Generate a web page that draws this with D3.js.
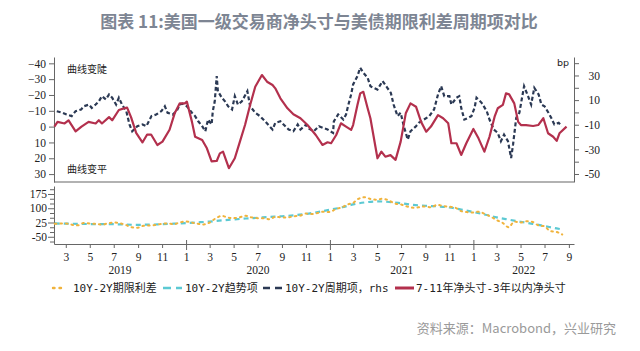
<!DOCTYPE html>
<html>
<head>
<meta charset="utf-8">
<script src="https://cdn.jsdelivr.net/npm/d3@7"></script>
<style>
  html, body { margin: 0; padding: 0; background: #fff; }
  svg { display: block; }
</style>
</head>
<body>
<svg id="chart" width="640" height="351"></svg>
<script>
// ---- data ----
// 7-11年净头寸-3年以内净头寸, left axis (reversed)
const netPosition = [
  ["2019-01-31",0],["2019-02-08",-3],["2019-02-26",-2],["2019-03-08",-4],["2019-03-26",3],["2019-04-10",0],
  ["2019-04-28",-3],["2019-05-16",-2],["2019-05-24",-4],["2019-06-01",-2],["2019-06-19",-6],["2019-06-27",-4],
  ["2019-07-14",-10.5],["2019-07-27",-11.5],["2019-08-04",-12],["2019-08-14",-6],["2019-08-27",4],["2019-09-12",10],
  ["2019-09-24",5],["2019-10-04",5],["2019-10-20",11.6],["2019-11-02",9.5],["2019-11-20",2],["2019-12-03",-8.4],
  ["2019-12-16",-14.7],["2019-12-29",-14.7],["2020-01-03",-15.8],["2020-01-16",-3],["2020-01-24",6.4],["2020-02-11",8.5],
  ["2020-02-23",13.7],["2020-03-06",22],["2020-03-19",21.7],["2020-03-27",16.9],["2020-04-04",15.8],["2020-04-19",26.3],
  ["2020-05-04",20],["2020-05-17",9.5],["2020-05-30",-1],["2020-06-12",-13.7],["2020-06-25",-25.2],["2020-07-12",-32.6],
  ["2020-07-25",-28.4],["2020-08-08",-26.3],["2020-08-15",-24.2],["2020-08-28",-17.9],["2020-09-15",-11.6],["2020-09-30",-7.8],
  ["2020-10-18",-5.3],["2020-11-05",-1],["2020-11-26",5.3],["2020-12-13",11.6],["2020-12-26",9.9],["2021-01-04",10.5],
  ["2021-01-17",5.3],["2021-01-29",-2.1],["2021-02-11",0],["2021-02-24",2.1],["2021-03-01",-1],["2021-03-12",-13.7],
  ["2021-03-19",-21],["2021-03-27",-22],["2021-04-07",-11.6],["2021-04-14",-5.3],["2021-05-02",20],["2021-05-12",15.8],
  ["2021-05-22",19],["2021-06-04",18],["2021-06-17",21],["2021-06-30",9.5],["2021-07-13",-8.4],["2021-07-25",-14.7],
  ["2021-08-08",-12.6],["2021-08-21",-3],["2021-09-03",3.2],["2021-09-15",0],["2021-10-03",-7.3],["2021-10-16",-5.3],
  ["2021-10-29",-2.1],["2021-11-06",10.5],["2021-11-19",10.5],["2021-12-01",17.9],["2021-12-14",10.5],["2022-01-01",1.5],
  ["2022-01-14",7.4],["2022-01-29",15.8],["2022-02-11",6.4],["2022-02-24",-6.3],["2022-03-04",-11.6],["2022-03-17",-13.7],
  ["2022-03-25",-21],["2022-04-02",-20.4],["2022-04-15",-14.7],["2022-04-25",-3],["2022-05-02",-1],["2022-05-15",-1],
  ["2022-06-02",-0.4],["2022-06-15",-1],["2022-06-28",-5.3],["2022-07-10",4.2],["2022-07-23",6.4],["2022-08-01",9],
  ["2022-08-08",4.2],["2022-08-26",0]
];

// 10Y-2Y周期项, right axis (bp)
const cycleTerm = [
  ["2019-02-06",1],["2019-02-21",-0.3],["2019-03-03",-1.7],["2019-03-16",-3],["2019-03-26",1],["2019-04-09",2.4],
  ["2019-04-16",5],["2019-04-29",6.4],["2019-05-06",3.7],["2019-05-16",6.4],["2019-05-24",9],["2019-06-01",13.2],
  ["2019-06-11",10.5],["2019-06-19",14.6],["2019-06-27",11.9],["2019-07-07",6.4],["2019-07-14",11.9],["2019-07-22",6.4],
  ["2019-08-02",1],["2019-08-10",-9.8],["2019-08-17",-15.3],["2019-08-30",-11.2],["2019-09-12",-9.8],["2019-09-22",-11.2],
  ["2019-10-05",-3],["2019-10-17",-1.7],["2019-10-30",1],["2019-11-08",5],["2019-11-15",-0.3],["2019-11-28",-1.7],
  ["2019-12-08",1],["2019-12-16",6.4],["2019-12-23",7],["2020-01-03",5],["2020-01-16",-0.3],["2020-01-24",-3],
  ["2020-02-01",-7.2],["2020-02-11",-11.2],["2020-02-19",-15.3],["2020-02-26",-5.8],["2020-03-06",-9.8],["2020-03-09",1],
  ["2020-03-14",9],["2020-03-19",29.5],["2020-03-22",17.2],["2020-04-01",11.9],["2020-04-09",9],["2020-04-17",5],
  ["2020-04-27",2.4],["2020-05-04",13.2],["2020-05-12",6.4],["2020-05-22",9],["2020-06-05",17.2],["2020-06-12",5],
  ["2020-06-25",-0.3],["2020-07-07",-3],["2020-07-20",-7.2],["2020-08-08",-13.9],["2020-08-15",-8.5],["2020-08-28",-7.2],
  ["2020-09-05",-9.8],["2020-09-18",-13.9],["2020-09-30",-15.3],["2020-10-11",-9.8],["2020-10-18",-13.9],["2020-11-01",-10],
  ["2020-11-08",-13],["2020-11-21",-15.3],["2020-12-04",-11.2],["2020-12-14",-12.5],["2020-12-26",-13.9],["2021-01-09",-16.6],
  ["2021-01-11",-7.2],["2021-01-22",-1.7],["2021-02-04",-5.8],["2021-02-11",-1.7],["2021-02-16",5],["2021-02-24",14.6],
  ["2021-03-01",22.7],["2021-03-12",29.5],["2021-03-19",36.3],["2021-03-27",32.2],["2021-04-07",28.1],["2021-04-14",21.3],
  ["2021-04-22",20],["2021-05-02",18.6],["2021-05-15",25.4],["2021-05-27",20],["2021-06-05",15.9],["2021-06-12",6.4],
  ["2021-06-22",-3],["2021-06-30",-0.3],["2021-07-08",-11.2],["2021-07-18",-22],["2021-07-25",-15.3],["2021-08-08",-11.2],
  ["2021-08-15",-8.5],["2021-08-28",-5.8],["2021-09-11",-3],["2021-09-23",2.4],["2021-10-03",14.6],["2021-10-11",21.3],
  ["2021-10-19",13.2],["2021-11-01",13.2],["2021-11-06",6.4],["2021-11-19",11.9],["2021-11-26",13.2],["2021-12-01",3.7],
  ["2021-12-09",-5.8],["2021-12-19",-4.4],["2021-12-27",-3],["2022-01-04",3.7],["2022-01-09",11.9],["2022-01-22",7.8],
  ["2022-02-04",1],["2022-02-11",-5.8],["2022-02-22",-13.9],["2022-03-04",-16.6],["2022-03-12",-23.4],["2022-03-20",-18],
  ["2022-03-30",-23.4],["2022-04-07",-37],["2022-04-12",-26],["2022-04-20",-4.4],["2022-04-28",-0.3],["2022-05-10",21.3],
  ["2022-05-20",13.2],["2022-05-28",6.4],["2022-06-05",20],["2022-06-16",14.6],["2022-06-23",6.4],["2022-07-01",5],
  ["2022-07-11",-0.3],["2022-07-18",-4.4],["2022-07-26",-9.8],["2022-08-06",-8.5],["2022-08-14",-11.2]
];

// 10Y-2Y期限利差 (bp)
const termSpread = [
  ["2019-02-01",18],["2019-02-15",20],["2019-03-01",20],["2019-03-15",14],["2019-04-01",10],["2019-04-15",22],
  ["2019-05-01",20],["2019-05-15",18],["2019-06-01",14],["2019-06-15",20],["2019-07-01",25],["2019-07-15",22],
  ["2019-08-01",12],["2019-08-15",0],["2019-09-01",-2],["2019-09-15",8],["2019-10-01",10],["2019-10-15",12],
  ["2019-11-01",18],["2019-11-15",20],["2019-12-01",16],["2019-12-15",25],["2020-01-01",30],["2020-01-15",25],
  ["2020-02-01",18],["2020-02-15",15],["2020-03-01",25],["2020-03-15",45],["2020-04-01",60],["2020-04-15",52],
  ["2020-05-01",48],["2020-05-15",52],["2020-06-01",60],["2020-06-15",52],["2020-07-01",48],["2020-07-15",48],
  ["2020-08-01",42],["2020-08-15",55],["2020-09-01",52],["2020-09-15",52],["2020-10-01",58],["2020-10-15",60],
  ["2020-11-01",72],["2020-11-15",70],["2020-12-01",75],["2020-12-15",82],["2021-01-01",80],["2021-01-15",95],
  ["2021-02-01",105],["2021-02-15",120],["2021-03-01",128],["2021-03-15",150],["2021-04-01",158],["2021-04-15",148],
  ["2021-05-01",145],["2021-05-15",150],["2021-06-01",140],["2021-06-15",125],["2021-07-01",120],["2021-07-15",110],
  ["2021-08-01",103],["2021-08-15",105],["2021-09-01",110],["2021-09-15",105],["2021-10-01",118],["2021-10-15",112],
  ["2021-11-01",108],["2021-11-15",104],["2021-12-01",85],["2021-12-15",80],["2022-01-01",78],["2022-01-15",82],
  ["2022-02-01",68],["2022-02-15",55],["2022-03-01",38],["2022-03-15",25],["2022-04-01",0],["2022-04-15",30],
  ["2022-05-01",25],["2022-05-15",32],["2022-06-01",28],["2022-06-15",10],["2022-07-01",5],["2022-07-15",-20],
  ["2022-08-01",-25],["2022-08-15",-38]
];

// 10Y-2Y趋势项 (bp)
const trendTerm = [
  ["2019-02-01",20],["2019-03-01",19],["2019-04-01",18],["2019-05-01",17],["2019-06-01",17],["2019-07-01",16],
  ["2019-08-01",14],["2019-09-01",13],["2019-10-01",14],["2019-11-01",16],["2019-12-01",19],["2020-01-01",22],
  ["2020-02-01",26],["2020-03-01",30],["2020-04-01",36],["2020-05-01",41],["2020-06-01",46],["2020-07-01",50],
  ["2020-08-01",54],["2020-09-01",58],["2020-10-01",63],["2020-11-01",70],["2020-12-01",80],["2021-01-01",92],
  ["2021-02-01",105],["2021-03-01",120],["2021-04-01",131],["2021-05-01",136],["2021-06-01",133],["2021-07-01",126],
  ["2021-08-01",118],["2021-09-01",113],["2021-10-01",110],["2021-11-01",104],["2021-12-01",93],["2022-01-01",80],
  ["2022-02-01",66],["2022-03-01",52],["2022-04-01",40],["2022-05-01",29],["2022-06-01",18],["2022-07-01",6],
  ["2022-08-01",-6],["2022-08-15",-12]
];

const leftTicks = [-40, -30, -20, -10, 0, 10, 20, 30];
const rightTicks = [40, 30, 20, 10, 0, -10, -20, -30, -40, -50];
const rightLabels = [30, 10, -10, -30, -50];
const lowerTicks = [200, 175, 150, 125, 100, 75, 50, 25, 0, -25, -50, -75];
const lowerLabels = [175, 100, 25, -50];
const years = [2019, 2020, 2021, 2022];

const legendItems = [
  { key: "spread", label: "10Y-2Y期限利差" },
  { key: "trend", label: "10Y-2Y趋势项" },
  { key: "cycle", label: "10Y-2Y周期项，rhs" },
  { key: "net", label: "7-11年净头寸-3年以内净头寸" }
];

// ---- layout ----
const COLORS = {
  net: "#b3304d", cycle: "#2b3954", spread: "#f0b33c", trend: "#5cc9d3",
  axis: "#666", text: "#222", title: "#7d8593", source: "#9a9a9a"
};
const X0 = 54, X1 = 574;
const TOP_Y0 = 57, TOP_Y1 = 182;
const LOW_Y0 = 186, LOW_Y1 = 244;
const serif = "'Liberation Serif', 'DejaVu Serif', serif";
const cjk = "'Noto Sans CJK SC', 'Noto Sans', sans-serif";
const mono = "'DejaVu Sans Mono', 'Noto Sans CJK SC', monospace";

const parse = d3.timeParse("%Y-%m-%d");
const svg = d3.select("#chart");

svg.append("text")
  .attr("x", 319).attr("y", 28)
  .attr("text-anchor", "middle")
  .attr("font-family", cjk).attr("font-size", 17).attr("font-weight", 700)
  .attr("fill", COLORS.title)
  .text("图表 11:美国一级交易商净头寸与美债期限利差周期项对比");

const x = d3.scaleTime()
  .domain([parse("2019-01-30"), parse("2022-09-14")])
  .range([X0, X1]);
const yLeft = d3.scaleLinear().domain([-44, 35]).range([TOP_Y0, TOP_Y1]);
const yRight = d3.scaleLinear().domain([45, -56.5]).range([TOP_Y0, TOP_Y1]);
const yLow = d3.scaleLinear().domain([-88, 217]).range([LOW_Y1, LOW_Y0]);

// ---- top panel axes ----
const axisStyle = sel => {
  sel.select(".domain").attr("stroke", COLORS.axis);
  sel.selectAll(".tick line").attr("stroke", COLORS.axis);
  sel.selectAll(".tick text").attr("font-family", serif).attr("font-size", 11.5).attr("fill", COLORS.text);
};

svg.append("g")
  .attr("transform", `translate(${X0},0)`)
  .call(d3.axisLeft(yLeft).tickValues(leftTicks).tickSize(5).tickSizeOuter(0).tickFormat(d3.format("d")))
  .call(axisStyle);

svg.append("g")
  .attr("transform", `translate(${X1},0)`)
  .call(d3.axisRight(yRight).tickValues(rightTicks).tickSize(5).tickSizeOuter(0)
    .tickFormat(d => rightLabels.includes(d) ? d : ""))
  .call(axisStyle)
  .call(g => g.selectAll(".tick text").attr("text-anchor", "end").attr("x", 26));

svg.append("line")
  .attr("x1", X0).attr("x2", X1).attr("y1", TOP_Y1).attr("y2", TOP_Y1)
  .attr("stroke", COLORS.axis).attr("stroke-width", 1.2);

svg.append("text").attr("x", 563).attr("y", 66).attr("text-anchor", "middle")
  .attr("font-family", "'DejaVu Sans', sans-serif").attr("font-size", 9.5).attr("fill", COLORS.text)
  .text("bp");

svg.append("text").attr("x", 67).attr("y", 73)
  .attr("font-family", cjk).attr("font-size", 10).attr("fill", COLORS.text).text("曲线变陡");
svg.append("text").attr("x", 67).attr("y", 173)
  .attr("font-family", cjk).attr("font-size", 10).attr("fill", COLORS.text).text("曲线变平");

// ---- top panel lines ----
const cycleLine = d3.line().x(d => x(parse(d[0]))).y(d => yRight(d[1]));
svg.append("path").datum(cycleTerm)
  .attr("d", cycleLine)
  .attr("fill", "none").attr("stroke", COLORS.cycle)
  .attr("stroke-width", 2.2).attr("stroke-dasharray", "4,2.5");

const netLine = d3.line().x(d => x(parse(d[0]))).y(d => yLeft(d[1]));
svg.append("path").datum(netPosition)
  .attr("d", netLine)
  .attr("fill", "none").attr("stroke", COLORS.net)
  .attr("stroke-width", 2.2).attr("stroke-linejoin", "round");

// ---- lower panel ----
svg.append("g")
  .attr("transform", `translate(${X0},0)`)
  .call(d3.axisLeft(yLow).tickValues(lowerTicks).tickSize(4).tickSizeOuter(0)
    .tickFormat(d => lowerLabels.includes(d) ? d : ""))
  .call(axisStyle)
  .call(g => g.selectAll(".tick").filter(d => lowerLabels.includes(d)).select("line").attr("x2", -6));

const monthTicks = d3.timeMonth.every(2).range(parse("2019-03-01"), parse("2022-09-02"));
svg.append("g")
  .attr("transform", `translate(0,${LOW_Y1})`)
  .call(d3.axisBottom(x).tickValues(monthTicks).tickSize(4).tickSizeOuter(0)
    .tickFormat(d3.timeFormat("%-m")))
  .call(axisStyle)
  .call(g => g.selectAll(".tick text").attr("dy", "0.9em"))
  .call(g => g.selectAll(".tick").filter(d => d.getMonth() === 0).select("line")
    .attr("y1", -4).attr("y2", 6));

years.forEach(yr => {
  const a = Math.max(x.range()[0], x(new Date(yr, 0, 1)));
  const b = Math.min(x.range()[1], x(new Date(yr + 1, 0, 1)));
  svg.append("text")
    .attr("x", (a + b) / 2).attr("y", 274).attr("text-anchor", "middle")
    .attr("font-family", serif).attr("font-size", 11.5).attr("fill", COLORS.text)
    .text(yr);
});

const lowLine = d3.line().x(d => x(parse(d[0]))).y(d => yLow(d[1])).curve(d3.curveMonotoneX);
svg.append("path").datum(trendTerm)
  .attr("d", lowLine)
  .attr("fill", "none").attr("stroke", COLORS.trend)
  .attr("stroke-width", 2.2).attr("stroke-dasharray", "5,4");
svg.append("path").datum(termSpread)
  .attr("d", lowLine)
  .attr("fill", "none").attr("stroke", COLORS.spread)
  .attr("stroke-width", 2).attr("stroke-dasharray", "1.6,4").attr("stroke-linecap", "round");

// ---- legend ----
const legendX = [52, 163, 263, 395];
const legend = svg.append("g").attr("transform", "translate(0,288)");
legendItems.forEach((item, i) => {
  const gx = legendX[i];
  const g = legend.append("g").attr("transform", `translate(${gx},0)`);
  const sw = g.append("line").attr("x1", 0).attr("x2", 19).attr("y1", 0).attr("y2", 0)
    .attr("stroke", COLORS[item.key]);
  if (item.key === "spread") sw.attr("stroke-width", 2.4).attr("stroke-dasharray", "1.5,5").attr("stroke-linecap", "round").attr("x1", 1).attr("x2", 14);
  if (item.key === "trend") sw.attr("stroke-width", 2.6).attr("stroke-dasharray", "8,5");
  if (item.key === "cycle") sw.attr("stroke-width", 2.6).attr("stroke-dasharray", "7,5");
  if (item.key === "net") sw.attr("stroke-width", 3);
  g.append("text").attr("x", i === 0 ? 21 : (i === 3 ? 21 : 22)).attr("y", 4)
    .attr("font-family", mono).attr("font-size", 11).attr("fill", COLORS.text)
    .text(item.label);
});

svg.append("text")
  .attr("x", 616).attr("y", 333).attr("text-anchor", "end")
  .attr("font-family", cjk).attr("font-size", 13).attr("fill", COLORS.source)
  .text("资料来源：Macrobond，兴业研究");
</script>
</body>
</html>
